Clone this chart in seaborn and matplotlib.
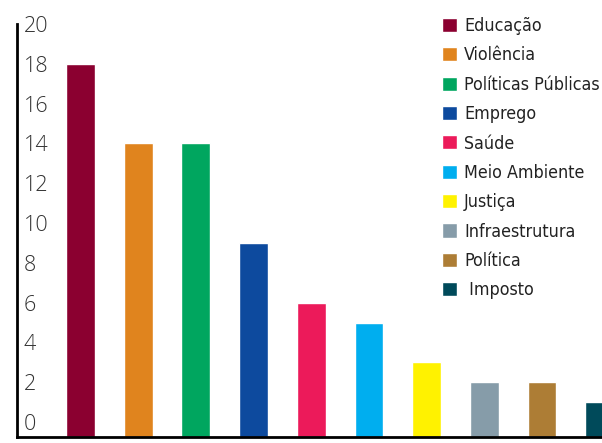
import matplotlib
matplotlib.use('Agg')
import matplotlib.pyplot as plt
from matplotlib import font_manager
import pandas as pd
import seaborn as sns

# Chart data
categories = ['Educação', 'Violência', 'Políticas Públicas', 'Emprego', 'Saúde',
              'Meio Ambiente', 'Justiça', 'Infraestrutura', 'Política', ' Imposto']
values = [18, 14, 14, 9, 6, 5, 3, 2, 2, 1]
colors = ['#8B0030', '#E0841E', '#00A65F', '#0D4A9E', '#EC1A5A',
          '#00AEEF', '#FFF200', '#869CA9', '#AD7D35', '#004A5A']
yticks = list(range(0, 21, 2))

df = pd.DataFrame({'Tema': categories, 'Valor': values})

sns.set_theme(style='white')
plt.rcParams['font.family'] = ['Open Sans', 'DejaVu Sans']

# condensed face for the legend, if one is around
names = {f.name for f in font_manager.fontManager.ttflist}
if 'Liberation Sans Narrow' in names:
    leg_prop = font_manager.FontProperties(family='Liberation Sans Narrow', size=13.8)
else:
    leg_prop = font_manager.FontProperties(family='DejaVu Sans', stretch='condensed', size=12.8)

fig = plt.figure(figsize=(6.02, 4.43), dpi=100)
ax = fig.add_axes([17 / 602, 6 / 443, 1 - 17 / 602, 413 / 443])

sns.barplot(data=df, x='Tema', y='Valor', hue='Tema', order=categories,
            hue_order=categories, palette=colors, width=0.5, saturation=1,
            legend=True, ax=ax)

# bars sit on the axis line, a bit below zero
base = -0.75
for cont in ax.containers:
    for p in cont:
        h = p.get_height()
        if h > 0:
            p.set_y(base)
            p.set_height(h - base)

ax.set_ylim(base, 20)
ax.set_xlim(-1.1, 9.04)
ax.set_yticks(yticks)
ax.set_xticks([])
ax.set_xlabel('')
ax.set_ylabel('')

ax.tick_params(axis='y', length=0, pad=-5, labelsize=15.5, labelcolor='#333333')
for lab in ax.get_yticklabels():
    lab.set_horizontalalignment('left')
    lab.set_fontweight('light')

for side in ['top', 'right']:
    ax.spines[side].set_visible(False)
for side in ['left', 'bottom']:
    ax.spines[side].set_color('black')
    ax.spines[side].set_linewidth(2)

sns.move_legend(ax, 'upper left', bbox_to_anchor=(442 / 602, 1 - 17 / 443),
                bbox_transform=fig.transFigure, frameon=False, title=None,
                borderpad=0, borderaxespad=0, handlelength=0.85, handleheight=0.85,
                handletextpad=0.4, labelspacing=0.64, prop=leg_prop)
for t in ax.get_legend().get_texts():
    t.set_color('#222222')

fig.savefig('out.png', dpi=100)
